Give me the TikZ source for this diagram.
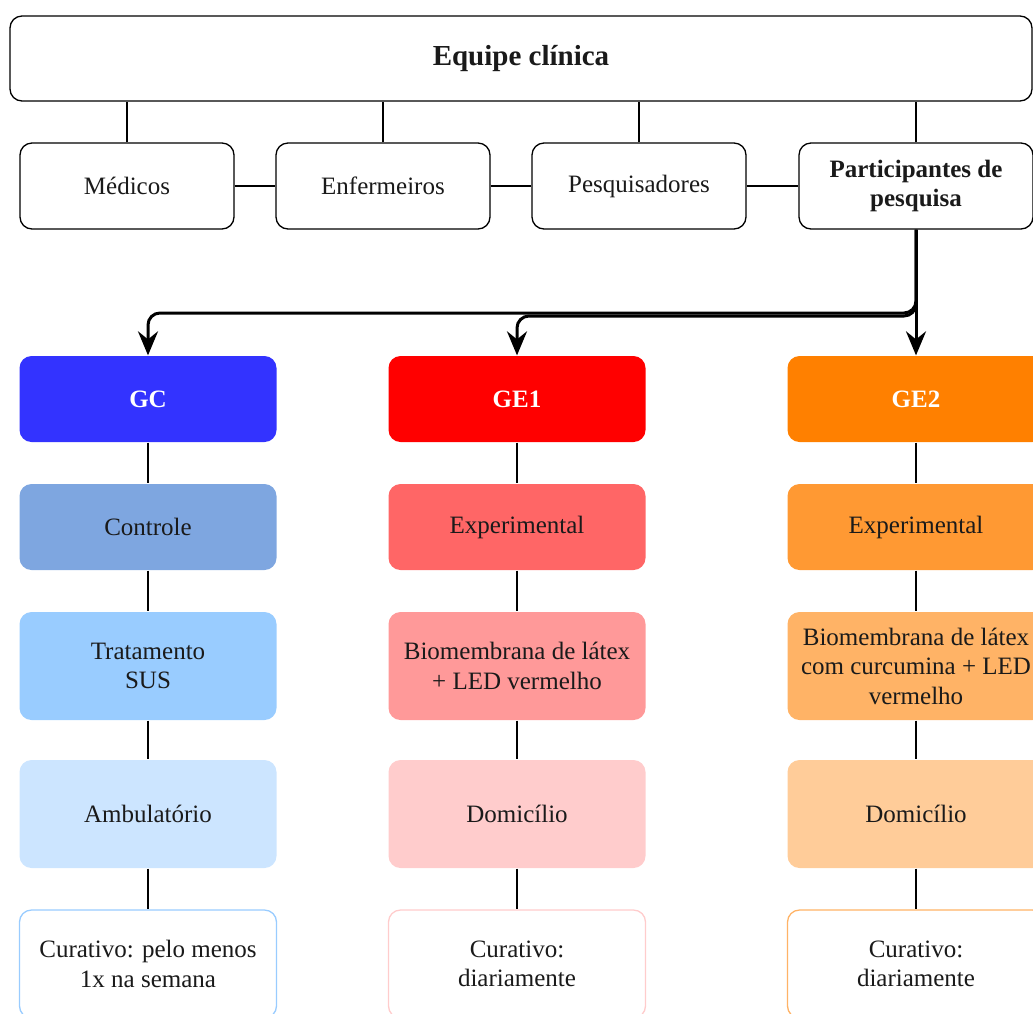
\documentclass[tikz,border=0pt]{standalone}
\usepackage{fontspec}
\setmainfont{Liberation Serif}
\usetikzlibrary{arrows.meta}
\definecolor{gcA}{HTML}{3333FF}
\definecolor{geA}{HTML}{FF0000}
\definecolor{gfA}{HTML}{FF8000}
\definecolor{gcB}{HTML}{7EA6E0}
\definecolor{geB}{HTML}{FF6666}
\definecolor{gfB}{HTML}{FF9933}
\definecolor{gcC}{HTML}{99CCFF}
\definecolor{geC}{HTML}{FF9999}
\definecolor{gfC}{HTML}{FFB366}
\definecolor{gcD}{HTML}{CCE5FF}
\definecolor{geD}{HTML}{FFCCCC}
\definecolor{gfD}{HTML}{FFCC99}
\definecolor{txt}{HTML}{1A1A1A}
\begin{document}
\begin{tikzpicture}[x=1pt,y=1pt,
  base/.style={rectangle, rounded corners=12pt, align=center, inner sep=2pt,
    font=\fontsize{25}{29.5}\selectfont, line width=1.3pt, text=txt},
  wbox/.style={base, draw=black, fill=white},
  colbox/.style={base, minimum width=257pt, minimum height=86pt},
  tallbox/.style={base, minimum width=257pt, minimum height=108pt},
  head/.style={colbox, text=white, font=\fontsize{25}{29.5}\selectfont\bfseries},
  conn/.style={draw=black, line width=1.2pt},
  arr/.style={draw=black, line width=3pt, rounded corners=12pt,
    -{Stealth[length=24pt, width=20pt, inset=8pt]}}
]
\useasboundingbox (0,0) rectangle (1033,-1013);
\clip (0,0) rectangle (1033,-1013);

% top level
\node[wbox, minimum width=1022pt, minimum height=85pt,
  font=\fontsize{29}{34}\selectfont\bfseries] (team) at (521,-58.5) {Equipe clínica};
\node[wbox, minimum width=214pt, minimum height=86pt] (med) at (127,-186) {Médicos};
\node[wbox, minimum width=214pt, minimum height=86pt] (enf) at (383,-186) {Enfermeiros};
\node[wbox, minimum width=214pt, minimum height=86pt] (pes) at (639,-186) {Pesquisadores};
\node[wbox, minimum width=234pt, minimum height=86pt,
  font=\fontsize{25}{29.5}\selectfont\bfseries] (par) at (916,-186) {Participantes de\\pesquisa};

\foreach \n in {med,enf,pes,par}{
  \draw[conn] (\n.north) -- (\n.north |- team.south);
}
\draw[conn] (med.east) -- (enf.west);
\draw[conn] (enf.east) -- (pes.west);
\draw[conn] (pes.east) -- (par.west);

% GC column
\node[head, fill=gcA] (gc) at (148,-399) {GC};
\node[colbox, fill=gcB] (gc2) at (148,-527) {Controle};
\node[tallbox, fill=gcC] (gc3) at (148,-666) {Tratamento\\SUS};
\node[tallbox, fill=gcD] (gc4) at (148,-814) {Ambulatório};
\node[tallbox, fill=white, draw=gcC] (gc5) at (148,-964) {Curativo: pelo menos\\1x na semana};

% GE1 column
\node[head, fill=geA] (ge) at (517,-399) {GE1};
\node[colbox, fill=geB] (ge2) at (517,-527) {Experimental};
\node[tallbox, fill=geC] (ge3) at (517,-666) {Biomembrana de látex\\+ LED vermelho};
\node[tallbox, fill=geD] (ge4) at (517,-814) {Domicílio};
\node[tallbox, fill=white, draw=geD] (ge5) at (517,-964) {Curativo:\\diariamente};

% GE2 column
\node[head, fill=gfA] (gf) at (916,-399) {GE2};
\node[colbox, fill=gfB] (gf2) at (916,-527) {Experimental};
\node[tallbox, fill=gfC] (gf3) at (916,-666) {Biomembrana de látex\\com curcumina + LED\\vermelho};
\node[tallbox, fill=gfD] (gf4) at (916,-814) {Domicílio};
\node[tallbox, fill=white, draw=gfC] (gf5) at (916,-964) {Curativo:\\diariamente};

\foreach \c in {gc,ge,gf}{
  \draw[conn] (\c.south) -- (\c2.north);
  \draw[conn] (\c2.south) -- (\c3.north);
  \draw[conn] (\c3.south) -- (\c4.north);
  \draw[conn] (\c4.south) -- (\c5.north);
}

% arrows
\coordinate (bj1) at (916,-313);
\coordinate (bj2) at (916,-316);
\draw[arr] (par.south) -- (bj1) -| (gc.north);
\draw[arr] (par.south) -- (bj2) -| (ge.north);
\draw[arr] (par.south) -- (gf.north);
\end{tikzpicture}
\end{document}
